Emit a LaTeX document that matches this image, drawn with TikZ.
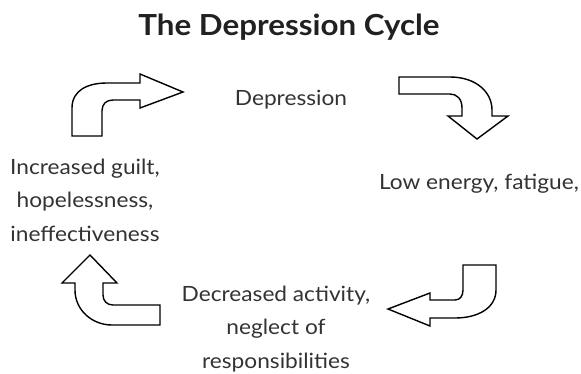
\documentclass[tikz,border=0pt]{standalone}
\usepackage{fontspec}
\setmainfont{Lato}[FakeStretch=1.08]
\begin{document}
\begin{tikzpicture}[x=1pt,y=-1pt,
  blockarrow/.style={draw=black,fill=white,line width=1.4pt,line join=miter},
  lbl/.style={text=black!80,align=center,inner sep=0pt,font=\fontsize{21}{33.5}\selectfont},
  ttl/.style={text=black!87,inner sep=0pt,font=\bfseries\fontsize{29}{30}\selectfont}]
\useasboundingbox (0,0) rectangle (581,373);
\node[ttl] (title) at (289,27) {The Depression Cycle};
\node[lbl] (dep) at (291,100) {Depression};
\node[lbl] (low) at (479,184) {Low energy, fatigue,};
\node[lbl] (dec) at (276,329) {Decreased activity,\\neglect of\\responsibilities};
\node[lbl] (inc) at (85,200) {Increased guilt,\\hopelessness,\\ineffectiveness};
% arrow 1 (top-left)
\draw[blockarrow] (72,136) -- (72,108) .. controls (72,90) and (88,83) .. (107,83) -- (140,83) -- (140,74) -- (183,92) -- (140,108) -- (140,100) -- (113,100) .. controls (106,100) and (102,104) .. (102,111) -- (102,136) -- cycle;
% arrow 2 (top-right)
\draw[blockarrow] (399,77) -- (450,77) .. controls (476,77) and (492,92) .. (492,110) -- (492,116) -- (508,116) -- (477,139) -- (448,116) -- (462,116) -- (462,108) .. controls (462,99) and (457,94) .. (450,94) -- (399,94) -- cycle;
% arrow 3 (bottom-right)
\draw[blockarrow] (463,265) -- (496,265) -- (496,290) .. controls (496,308) and (478,318) .. (455,318) -- (430,318) -- (430,326) -- (388,309) -- (430,293) -- (430,300) -- (455,300) .. controls (460,300) and (463,296) .. (463,290) -- cycle;
% arrow 4 (bottom-left)
\draw[blockarrow] (90,255) -- (117,283) -- (103,283) -- (103,295) .. controls (103,301) and (107,305) .. (113,305) -- (160,305) -- (160,325) -- (112,325) .. controls (92,325) and (75,310) .. (75,290) -- (75,283) -- (62,283) -- cycle;
\end{tikzpicture}
\end{document}
